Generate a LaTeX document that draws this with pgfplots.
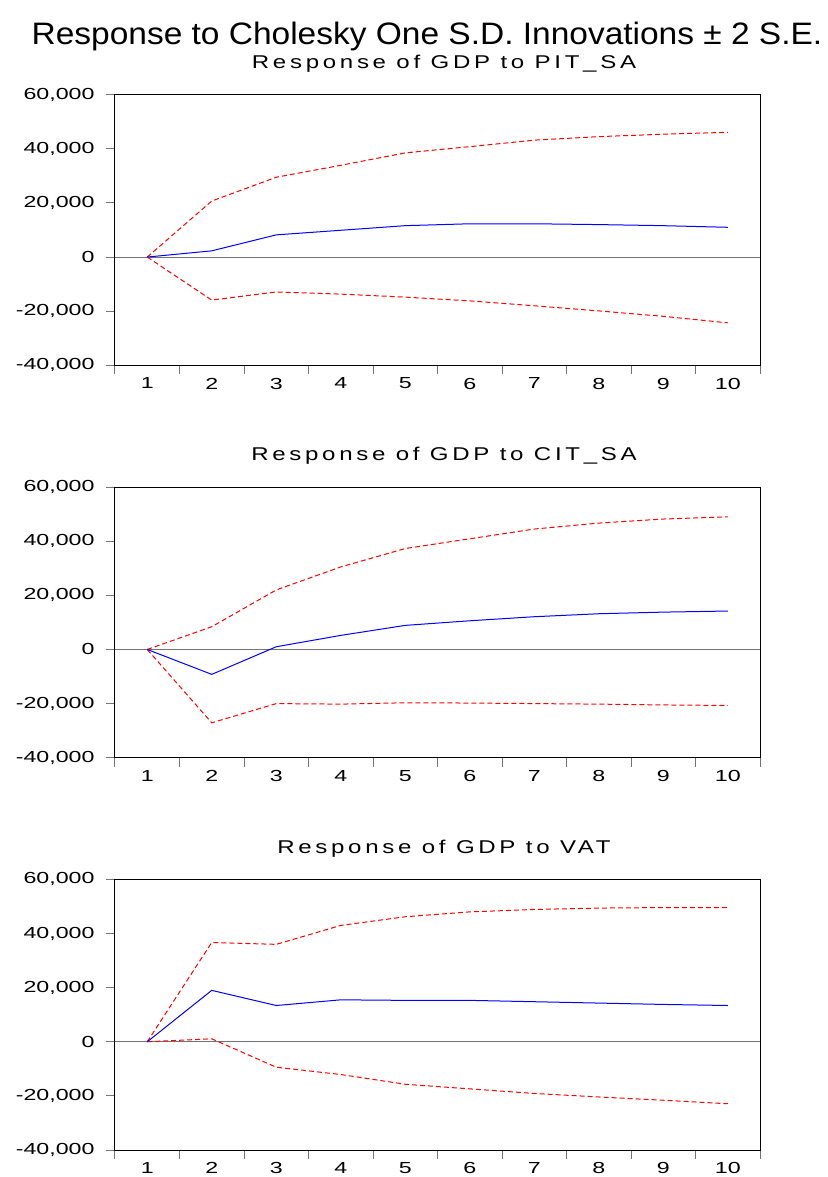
\documentclass[border=0pt]{standalone}
\usepackage{fontspec}
\setmainfont{Liberation Sans}
\newfontfamily\tickfont[FakeStretch=1.45]{Liberation Sans}
\newfontfamily\subfont[FakeStretch=1.3,LetterSpace=20]{Liberation Sans}
\newfontfamily\titlefont[FakeStretch=1.08]{Liberation Sans}
\usepackage{pgfplots}
\usepackage{pgfplotstable}
\pgfplotsset{compat=1.18}

\pgfplotstableread{
x resp upper lower
1 0 0 0
2 2300 20700 -15900
3 8200 29500 -12900
4 9900 33900 -13700
5 11600 38500 -14800
6 12300 40800 -16200
7 12300 43200 -18000
8 12000 44500 -19900
9 11600 45400 -21900
10 11000 46100 -24300
}\pit
\pgfplotstableread{
x resp upper lower
1 0 0 0
2 -9200 8400 -27100
3 1000 22000 -20000
4 5200 30500 -20200
5 8900 37300 -19700
6 10600 40900 -19800
7 12100 44500 -20000
8 13200 46700 -20200
9 13800 48200 -20500
10 14200 49000 -20700
}\cit
\pgfplotstableread{
x resp upper lower
1 0 0 0
2 19000 36700 1100
3 13400 36000 -9400
4 15500 43000 -12100
5 15300 46200 -15700
6 15300 48000 -17400
7 14800 48900 -19100
8 14300 49400 -20400
9 13800 49600 -21600
10 13400 49600 -22900
}\vat

\pgfplotsset{irf/.style={
  scale only axis, width=645pt, height=270.6pt,
  xmin=0.5, xmax=10.5, ymin=-40000, ymax=60000,
  xtick={0.5,1.5,...,10.5},
  xticklabels={1,2,3,4,5,6,7,8,9,10,{}},
  xticklabel style={xshift=32.25pt},
  ytick={-40000,-20000,0,20000,40000,60000},
  yticklabels={{-40,000},{-20,000},{0},{20,000},{40,000},{60,000}},
  scaled y ticks=false,
  yticklabel style={xshift=-8pt},
  tick align=outside, xtick pos=left, ytick pos=left,
  major tick length=9pt,
  tick style={draw=black!55, line width=1pt},
  axis line style={line width=1pt},
  tick label style={font=\tickfont\fontsize{16pt}{16pt}\selectfont},
  clip=false,
}}
\newcommand{\irfplots}[1]{%
  \addplot[black!55, line width=1pt, forget plot] coordinates {(0.5,0) (10.5,0)};
  \addplot[red, line width=1pt, dash pattern=on 5pt off 3pt] table[x=x,y=upper] {#1};
  \addplot[red, line width=1pt, dash pattern=on 5pt off 3pt] table[x=x,y=lower] {#1};
  \addplot[blue, line width=1pt] table[x=x,y=resp] {#1};
}

\begin{document}
\begin{tikzpicture}
\useasboundingbox (0,0) rectangle (827pt,-1177pt);
\node[anchor=base, font=\titlefont\fontsize{31pt}{31pt}\selectfont] at (427pt,-45pt) {Response to Cholesky One S.D. Innovations ± 2 S.E.};

\node[anchor=base, font=\subfont\fontsize{18.5pt}{18.5pt}\selectfont] at (444pt,-68.3pt) {Response of GDP to PIT\_SA};
\begin{axis}[irf, at={(115pt,-365.3pt)}, anchor=south west]
\irfplots{\pit}
\end{axis}

\node[anchor=base, font=\subfont\fontsize{18.5pt}{18.5pt}\selectfont] at (444pt,-460pt) {Response of GDP to CIT\_SA};
\begin{axis}[irf, at={(115pt,-757.7pt)}, anchor=south west]
\irfplots{\cit}
\end{axis}

\node[anchor=base, font=\subfont\fontsize{18.5pt}{18.5pt}\selectfont] at (444pt,-853pt) {Response of GDP to VAT};
\begin{axis}[irf, at={(115pt,-1150pt)}, anchor=south west]
\irfplots{\vat}
\end{axis}
\end{tikzpicture}
\end{document}
